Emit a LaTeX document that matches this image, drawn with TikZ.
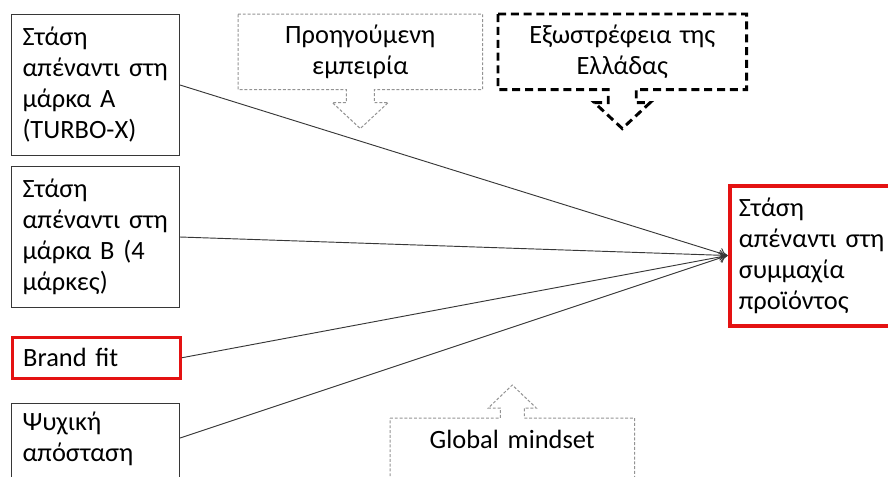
\documentclass[tikz,border=0pt]{standalone}
\usepackage{fontspec}
\setmainfont{Carlito}
\usetikzlibrary{calc,arrows.meta}

\definecolor{boxred}{RGB}{228,18,18}
\definecolor{linegray}{RGB}{55,55,55}

\tikzset{
  factor/.style={draw=linegray, line width=0.75pt, anchor=north west, align=left,
    minimum width=126pt, text width=109.5pt, inner xsep=8.25pt},
  keyfactor/.style={factor, draw=boxred, line width=2.6pt},
  moderator/.style={anchor=north west, align=center, minimum width=183pt,
    text width=170pt, inner xsep=6.5pt},
  faint/.style={draw=gray!85, line width=0.75pt, dash pattern=on 2.2pt off 1.4pt},
  bolddash/.style={draw=black, line width=2.2pt, dash pattern=on 6pt off 3.6pt},
  link/.style={-{To[length=6pt,width=8pt]}, draw=linegray, line width=0.7pt},
}

\begin{document}
\begin{tikzpicture}[x=0.75pt, y=-0.75pt, font=\fontsize{19.8}{23.25}\selectfont]
  \useasboundingbox (0,0) rectangle (888,476);
  \clip (0,0) rectangle (888,476);

  % attitude towards the two brands
  \node[factor, minimum height=105.75pt] (brandA) at (11,14)
    {Στάση\\απέναντι~στη\\μάρκα Α\\(TURBO-X)};
  \node[factor, minimum height=105.75pt] (brandB) at (11,166)
    {Στάση\\απέναντι~στη\\μάρκα Β (4\\μάρκες)};
  \node[keyfactor, minimum height=30.75pt] (fit) at (10.5,335.5) {Brand fit};
  \node[factor, text height=15pt, text depth=60pt, inner ysep=5.25pt] (psy) at (11,403)
    {Ψυχική\\απόσταση};
  \coordinate (psyout) at ($(psy.north east)+(0,35)$);

  % outcome
  \node[factor, draw=boxred, line width=3pt, minimum width=150pt, text width=136pt,
    inner xsep=6.5pt, minimum height=105pt] (alliance) at (727.5,183.5)
    {Στάση\\απέναντι~στη\\συμμαχία\\προϊόντος};

  % moderators
  \node[moderator, minimum height=56.25pt] (prev) at (238,14) {Προηγούμενη\\εμπειρία};
  \node[moderator, minimum height=56.25pt, minimum width=186pt, text width=173pt] (ext) at (498,14)
    {Εξωστρέφεια της\\Ελλάδας};
  \node[moderator, text height=15pt, text depth=60pt, inner ysep=7.5pt] (glob) at (390,418)
    {Global mindset};

  % block arrows round the moderators
  \draw[faint] (prev.north west) -- (prev.north east) -- (prev.south east)
    -- ($(prev.south)+(14,0)$) -- ++(0,13) -- ++(14,0) -- ($(prev.south)+(0,39)$)
    -- ($(prev.south)+(-28,13)$) -- ++(14,0) -- ($(prev.south)+(-14,0)$)
    -- (prev.south west) -- cycle;
  \draw[bolddash] (ext.north west) -- (ext.north east) -- (ext.south east)
    -- ($(ext.south)+(14,0)$) -- ++(0,13) -- ++(14,0) -- ($(ext.south)+(0,39)$)
    -- ($(ext.south)+(-28,13)$) -- ++(14,0) -- ($(ext.south)+(-14,0)$)
    -- (ext.south west) -- cycle;
  \draw[faint] (glob.north west) -- ($(glob.north)+(-12,0)$) -- ++(0,-10) -- ++(-12,0)
    -- ($(glob.north)+(0,-33)$) -- ($(glob.north)+(24,-10)$) -- ++(-12,0)
    -- ($(glob.north)+(12,0)$) -- (glob.north east) -- (glob.south east)
    -- (glob.south west) -- cycle;

  % paths
  \draw[link] (brandA.east) -- (alliance.west);
  \draw[link] (brandB.east) -- (alliance.west);
  \draw[link] (fit.east) -- (alliance.west);
  \draw[link] (psyout) -- (alliance.west);
\end{tikzpicture}
\end{document}
